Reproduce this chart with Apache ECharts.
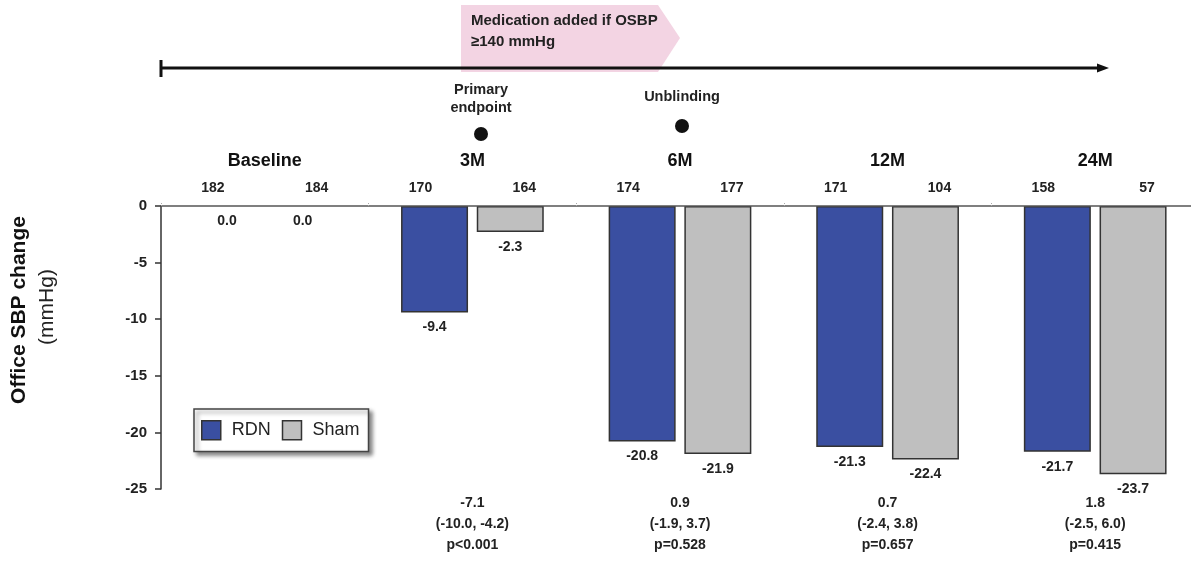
<!DOCTYPE html>
<html>
<head>
<meta charset="utf-8">
<script src="https://cdn.jsdelivr.net/npm/echarts@6/dist/echarts.min.js"></script>
<style>
  html, body { margin: 0; padding: 0; background: #fff; }
  #chart { width: 1191px; height: 565px; }
</style>
</head>
<body>
<div id="chart"></div>
<script>
const groups = ['Baseline', '3M', '6M', '12M', '24M'];
const nCounts = ['182', '184', '170', '164', '174', '177', '171', '104', '158', '57'];
const rdnChange = [0.0, -9.4, -20.8, -21.3, -21.7];
const shamChange = [0.0, -2.3, -21.9, -22.4, -23.7];
const diffEst = ['', '-7.1', '0.9', '0.7', '1.8'];
const diffCI = ['', '(-10.0, -4.2)', '(-1.9, 3.7)', '(-2.4, 3.8)', '(-2.5, 6.0)'];
const pValues = ['', 'p<0.001', 'p=0.528', 'p=0.657', 'p=0.415'];
const yTicks = [0, -5, -10, -15, -20, -25];

const FONT = '"Liberation Sans", Arial, sans-serif';
const RDN_COLOR = '#3a4fa1';
const SHAM_COLOR = '#bfbfbf';

const chart = echarts.init(document.getElementById('chart'), null, { renderer: 'canvas' });

const statLabels = groups.map((g, i) =>
  diffEst[i] ? [diffEst[i], diffCI[i], pValues[i]].join('\n') : '');

// zero-height bars should not draw a border over the axis line
const toBarData = (arr) => arr.map((v) =>
  v === 0 ? { value: v, itemStyle: { borderWidth: 0 } } : v);

const barLabel = {
  show: true,
  position: 'bottom',
  distance: 8,
  fontFamily: FONT,
  fontSize: 14,
  fontWeight: 'bold',
  color: '#222',
  formatter: (p) => p.value.toFixed(1)
};

const option = {
  animation: false,
  backgroundColor: '#fff',
  textStyle: { fontFamily: FONT },
  grid: {
    left: 161,
    top: 206,
    width: 1038,
    height: 283,
    containLabel: false,
    outerBoundsMode: 'none'
  },
  legend: {
    data: ['RDN', 'Sham'],
    left: 194,
    top: 409,
    orient: 'horizontal',
    icon: 'rect',
    itemWidth: 19,
    itemHeight: 19,
    itemGap: 11,
    padding: [11, 9, 11, 7],
    backgroundColor: '#fff',
    borderColor: '#444',
    borderWidth: 1.5,
    shadowColor: 'rgba(0,0,0,0.45)',
    shadowBlur: 4,
    shadowOffsetX: 3,
    shadowOffsetY: 3,
    itemStyle: { borderColor: '#333', borderWidth: 1.5 },
    textStyle: {
      fontFamily: FONT,
      fontSize: 18,
      color: '#222',
      padding: [0, 0, 0, 6]
    }
  },
  xAxis: [
    {
      type: 'category',
      data: groups,
      position: 'top',
      z: 5,
      axisLine: { show: true, lineStyle: { color: '#555', width: 1.5 } },
      axisTick: {
        show: true,
        length: 4,
        lineStyle: { color: '#aaa', type: 'dotted', width: 1 }
      },
      axisLabel: {
        margin: 36,
        fontFamily: FONT,
        fontSize: 18,
        fontWeight: 'bold',
        color: '#111'
      }
    },
    {
      type: 'category',
      data: nCounts,
      position: 'top',
      axisLine: { show: false },
      axisTick: { show: false },
      axisLabel: {
        margin: 11,
        interval: 0,
        fontFamily: FONT,
        fontSize: 14,
        fontWeight: 'bold',
        color: '#222'
      }
    },
    {
      type: 'category',
      data: statLabels,
      position: 'bottom',
      axisLine: { show: false },
      axisTick: { show: false },
      axisLabel: {
        margin: 4,
        interval: 0,
        fontFamily: FONT,
        fontSize: 14,
        fontWeight: 'bold',
        color: '#222',
        lineHeight: 21
      }
    }
  ],
  yAxis: {
    type: 'value',
    min: yTicks[yTicks.length - 1],
    max: yTicks[0],
    interval: 5,
    axisLine: { show: true, lineStyle: { color: '#333', width: 1.5 } },
    axisTick: { show: true, length: 6, lineStyle: { color: '#333', width: 1.5 } },
    splitLine: { show: false },
    axisLabel: {
      margin: 14,
      fontFamily: FONT,
      fontSize: 15,
      fontWeight: 'bold',
      color: '#222'
    }
  },
  series: [
    {
      name: 'RDN',
      type: 'bar',
      xAxisIndex: 0,
      data: toBarData(rdnChange),
      barWidth: 67,
      barGap: '13%',
      itemStyle: { color: RDN_COLOR, borderColor: '#333', borderWidth: 1.5 },
      label: barLabel
    },
    {
      name: 'Sham',
      type: 'bar',
      xAxisIndex: 0,
      data: toBarData(shamChange),
      barWidth: 67,
      barGap: '13%',
      itemStyle: { color: SHAM_COLOR, borderColor: '#333', borderWidth: 1.5 },
      label: barLabel
    }
  ],
  graphic: [
    // pink "medication" arrow box
    {
      type: 'polygon',
      z: 1,
      shape: { points: [[461, 5], [658, 5], [680, 38], [658, 72], [461, 72]] },
      style: { fill: '#f3d4e3' }
    },
    {
      type: 'text',
      z: 3,
      x: 471,
      y: 31,
      style: {
        text: 'Medication added if OSBP\n≥140 mmHg',
        font: 'bold 15px ' + FONT,
        fill: '#222',
        lineHeight: 21,
        textAlign: 'left',
        textVerticalAlign: 'middle'
      }
    },
    // timeline
    {
      type: 'line',
      z: 2,
      shape: { x1: 160, y1: 68, x2: 1100, y2: 68 },
      style: { stroke: '#111', lineWidth: 3 }
    },
    {
      type: 'line',
      z: 2,
      shape: { x1: 161, y1: 60, x2: 161, y2: 77 },
      style: { stroke: '#111', lineWidth: 3 }
    },
    {
      type: 'polygon',
      z: 2,
      shape: { points: [[1097, 63.5], [1109, 68], [1097, 72.5]] },
      style: { fill: '#111' }
    },
    {
      type: 'text',
      z: 3,
      x: 481,
      y: 99,
      style: {
        text: 'Primary\nendpoint',
        font: 'bold 14.5px ' + FONT,
        fill: '#222',
        lineHeight: 18,
        textAlign: 'center',
        textVerticalAlign: 'middle'
      }
    },
    {
      type: 'circle',
      z: 3,
      shape: { cx: 481, cy: 134, r: 7 },
      style: { fill: '#111' }
    },
    {
      type: 'text',
      z: 3,
      x: 682,
      y: 97,
      style: {
        text: 'Unblinding',
        font: 'bold 14.5px ' + FONT,
        fill: '#222',
        textAlign: 'center',
        textVerticalAlign: 'middle'
      }
    },
    {
      type: 'circle',
      z: 3,
      shape: { cx: 682, cy: 126, r: 7 },
      style: { fill: '#111' }
    },
    // y axis title
    {
      type: 'text',
      z: 3,
      x: 19,
      y: 310,
      rotation: Math.PI / 2,
      style: {
        text: 'Office SBP change',
        font: 'bold 21px ' + FONT,
        fill: '#111',
        textAlign: 'center',
        textVerticalAlign: 'middle'
      }
    },
    {
      type: 'text',
      z: 3,
      x: 47,
      y: 307,
      rotation: Math.PI / 2,
      style: {
        text: '(mmHg)',
        font: '21px ' + FONT,
        fill: '#222',
        textAlign: 'center',
        textVerticalAlign: 'middle'
      }
    }
  ]
};

chart.setOption(option);
</script>
</body>
</html>
